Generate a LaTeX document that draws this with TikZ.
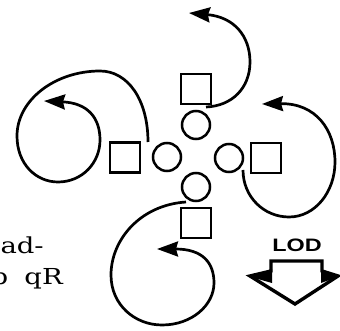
\documentclass[tikz,border=0pt]{standalone}
\usepackage{fontspec}
\newfontfamily\lodfont{Liberation Sans}
\newfontfamily\twfont{DejaVu Serif}
\usetikzlibrary{arrows.meta}
\tikzset{
  sq/.style={draw, line width=2.5pt, minimum size=30pt, inner sep=0pt},
  ci/.style={draw, circle, line width=2.5pt, minimum size=28pt, inner sep=0pt},
  curl/.style={line width=2.7pt, -{Stealth[length=21pt,width=15pt,inset=2pt]}},
  twtext/.style={anchor=base east, inner sep=0pt, font=\twfont\fontsize{22}{26}\selectfont},
}
\begin{document}
\begin{tikzpicture}[x=1pt,y=-1pt]
\useasboundingbox (0,0) rectangle (340,331);
% squares
\node[sq] (st) at (196,89) {};
\node[sq] (sl) at (125,157.5) {};
\node[sq] (sr) at (266,158) {};
\node[sq] (sb) at (196,223) {};
% circles
\node[ci] (ct) at (196,125) {};
\node[ci] (cl) at (167,157) {};
\node[ci] (cr) at (229,158) {};
\node[ci] (cb) at (196,187) {};
% top curl
\draw[curl] (206,107) .. controls (232,106) and (250,88) .. (250,62)
  .. controls (250,36) and (234,17) .. (189,13);
% left curl
\draw[curl] (148,142) .. controls (148,100) and (128,71) .. (100,71)
  .. controls (55,71) and (17,100) .. (17,136)
  .. controls (17,164) and (36,182) .. (58,182)
  .. controls (82,182) and (100,163) .. (100,140)
  .. controls (100,118) and (88,103) .. (44,101);
% right curl
\draw[curl] (243,170) .. controls (243,197) and (264,217) .. (289,217)
  .. controls (315,217) and (335,192) .. (335,162)
  .. controls (335,130) and (316,103) .. (262,104);
% bottom curl
\draw[curl] (186,202) .. controls (140,205) and (111,240) .. (111,275)
  .. controls (111,305) and (135,325) .. (162,325)
  .. controls (192,325) and (214,305) .. (214,283)
  .. controls (214,263) and (203,249) .. (157,249);
% LOD arrow
\node[inner sep=0pt, font=\lodfont\bfseries\fontsize{18}{20}\selectfont] (lod) at (297,245) {\scalebox{1.3}[1]{LOD}};
\draw[line width=3.4pt, line join=miter, miter limit=10]
  (271,261) -- (322,261) -- (322,271) -- (338,276) -- (295,304) -- (250,276) -- (271,271) -- cycle;
\fill (249,276.5) -- (272,269) -- (272,283) -- cycle;
\fill (339,276.5) -- (321,269) -- (321,283) -- cycle;
% text
\node[twtext] (t1) at (44,253) {\scalebox{1.25}[1]{ad-}};
\node[twtext] (t2) at (63,284) {\scalebox{1.25}[1]{p\hspace{6pt} qR}};
\end{tikzpicture}
\end{document}
